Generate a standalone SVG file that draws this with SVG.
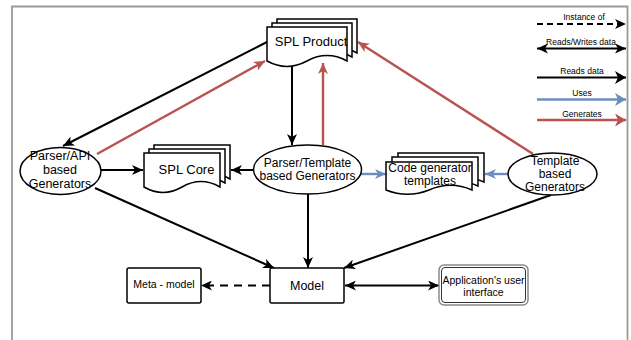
<svg xmlns="http://www.w3.org/2000/svg" width="631" height="340" viewBox="0 0 631 340">
  <style>
    .shape { fill: #ffffff; stroke: #000000; stroke-width: 1.5; }
    .lbl { font-family: "Liberation Sans", Arial, Helvetica, sans-serif; fill: #000000; text-anchor: middle; }
    .edge { fill: none; stroke-width: 2; }
    .blk { stroke: #000000; }
    .red { stroke: #b85450; stroke-width: 2.4; }
    .blu { stroke: #6c8ebf; stroke-width: 2.4; }
    .dash { stroke-dasharray: 8 6; }
  </style>
  <defs>
    <marker id="ahBlack" markerUnits="userSpaceOnUse" markerWidth="12" markerHeight="10" refX="11" refY="5" orient="auto-start-reverse" viewBox="0 0 12 10">
      <path d="M0,0 L11,5 L0,10 L3,5 Z" fill="#000000"/>
    </marker>
    <marker id="ahRed" markerUnits="userSpaceOnUse" markerWidth="12" markerHeight="10" refX="11" refY="5" orient="auto" viewBox="0 0 12 10">
      <path d="M0,0 L11,5 L0,10 L3,5 Z" fill="#b85450"/>
    </marker>
    <marker id="ahBlue" markerUnits="userSpaceOnUse" markerWidth="12" markerHeight="10" refX="11" refY="5" orient="auto" viewBox="0 0 12 10">
      <path d="M0,0 L11,5 L0,10 L3,5 Z" fill="#6c8ebf"/>
    </marker>
    <!-- larger heads used in the key -->
    <marker id="keyBlack" markerUnits="userSpaceOnUse" markerWidth="12" markerHeight="13" refX="11" refY="6.5" orient="auto" viewBox="0 0 12 13">
      <path d="M0,0 L11,6.5 L0,13 L3,6.5 Z" fill="#000000"/>
    </marker>
    <marker id="keyRed" markerUnits="userSpaceOnUse" markerWidth="12" markerHeight="13" refX="11" refY="6.5" orient="auto" viewBox="0 0 12 13">
      <path d="M0,0 L11,6.5 L0,13 L3,6.5 Z" fill="#b85450"/>
    </marker>
    <marker id="keyBlue" markerUnits="userSpaceOnUse" markerWidth="12" markerHeight="13" refX="11" refY="6.5" orient="auto" viewBox="0 0 12 13">
      <path d="M0,0 L11,6.5 L0,13 L3,6.5 Z" fill="#6c8ebf"/>
    </marker>
  </defs>

  <rect width="631" height="340" fill="#ffffff"/>
  <!-- outer frame -->
  <path d="M12,340 V6.5 H627.5 V340" fill="none" stroke="#9a9a9a" stroke-width="1.8"/>

  <!-- connectors -->
  <g id="connectors">
    <path class="edge blk" d="M267,42 L63,146" marker-end="url(#ahBlack)"/>
    <path class="edge red" d="M97,154 L265,61" marker-end="url(#ahRed)"/>
    <path class="edge blk" d="M292,66 V145" marker-end="url(#ahBlack)"/>
    <path class="edge red" d="M323,145 V63" marker-end="url(#ahRed)"/>
    <path class="edge red" d="M533,154 L358,42" marker-end="url(#ahRed)"/>
    <path class="edge blk" d="M101,170 H143" marker-end="url(#ahBlack)"/>
    <path class="edge blk" d="M253,170 H231" marker-end="url(#ahBlack)"/>
    <path class="edge blu" d="M359,174 H386" marker-end="url(#ahBlue)"/>
    <path class="edge blu" d="M508,174 H485" marker-end="url(#ahBlue)"/>
    <path class="edge blk" d="M95,188 L274,268" marker-end="url(#ahBlack)"/>
    <path class="edge blk" d="M308,194 V268" marker-end="url(#ahBlack)"/>
    <path class="edge blk" d="M551,195 L344,268" marker-end="url(#ahBlack)"/>
    <path class="edge blk dash" d="M270,285.5 H201" marker-end="url(#ahBlack)"/>
    <path class="edge blk" d="M345,285.5 H439" marker-start="url(#ahBlack)" marker-end="url(#ahBlack)"/>
  </g>

  <!-- SPL Product (stacked documents) -->
  <g id="spl-product">
    <path class="shape" d="M277,19 H357 V53 Q337,42.2 317,53 Q297,63.8 277,53 Z"/>
    <path class="shape" d="M272,23 H352 V57 Q332,46.2 312,57 Q292,67.8 272,57 Z"/>
    <path class="shape" d="M267,27 H347 V61 Q327,50.2 307,61 Q287,71.8 267,61 Z"/>
    <text class="lbl" x="311" y="46" font-size="13">SPL Product</text>
  </g>

  <!-- SPL Core (stacked documents) -->
  <g id="spl-core">
    <path class="shape" d="M154,145 H230 V179 Q211,168.2 192,179 Q173,189.8 154,179 Z"/>
    <path class="shape" d="M149,149 H225 V183 Q206,172.2 187,183 Q168,193.8 149,183 Z"/>
    <path class="shape" d="M144,153 H220 V187 Q201,176.2 182,187 Q163,197.8 144,187 Z"/>
    <text class="lbl" x="186.5" y="173.5" font-size="13">SPL Core</text>
  </g>

  <!-- Code generator templates (stacked documents) -->
  <g id="code-templates">
    <path class="shape" d="M398,153 H484 V182 Q462.5,172.7 441,182 Q419.5,190.5 398,182 Z"/>
    <path class="shape" d="M392,157 H478 V186 Q456.5,176.7 435,186 Q413.5,194.5 392,186 Z"/>
    <path class="shape" d="M386,162 H472 V190 Q450.5,180.7 429,190 Q407.5,198.5 386,190 Z"/>
    <text class="lbl" x="430" y="171.5" font-size="12">Code generator</text>
    <text class="lbl" x="430" y="185" font-size="12">templates</text>
  </g>

  <!-- Parser/API based Generators -->
  <g id="parser-api">
    <ellipse class="shape" cx="60.5" cy="171" rx="40.5" ry="23.5"/>
    <text class="lbl" x="60" y="159.5" font-size="12.5">Parser/API</text>
    <text class="lbl" x="60" y="173.5" font-size="12.5">based</text>
    <text class="lbl" x="60" y="187.5" font-size="12.5">Generators</text>
  </g>

  <!-- Parser/Template based Generators -->
  <g id="parser-template">
    <ellipse class="shape" cx="307.5" cy="169.5" rx="54" ry="24.5"/>
    <text class="lbl" x="307.5" y="166.8" font-size="12">Parser/Template</text>
    <text class="lbl" x="307.5" y="180" font-size="12">based Generators</text>
  </g>

  <!-- Template based Generators -->
  <g id="template-gen">
    <ellipse class="shape" cx="552.5" cy="174" rx="44.5" ry="21"/>
    <text class="lbl" x="555" y="164.5" font-size="12">Template</text>
    <text class="lbl" x="555" y="177.8" font-size="12">based</text>
    <text class="lbl" x="555" y="191" font-size="12">Generators</text>
  </g>

  <!-- Meta - model -->
  <g id="meta-model">
    <rect class="shape" x="127" y="268" width="74" height="35" rx="2"/>
    <text class="lbl" x="164" y="288.3" font-size="10.5">Meta - model</text>
  </g>

  <!-- Model -->
  <g id="model">
    <rect class="shape" x="270" y="268" width="74" height="35" rx="1.5"/>
    <text class="lbl" x="307" y="289.5" font-size="12.5">Model</text>
  </g>

  <!-- Application's user interface -->
  <g id="app-ui">
    <rect x="439" y="265" width="89" height="40" rx="5" fill="#ffffff" stroke="#8a8a8a" stroke-width="1.5"/>
    <rect x="441.5" y="267.5" width="84" height="35" rx="3.5" fill="none" stroke="#333333" stroke-width="1"/>
    <text class="lbl" x="483.5" y="283.8" font-size="10.5">Application's user</text>
    <text class="lbl" x="483.5" y="295.5" font-size="10.5">interface</text>
  </g>

  <!-- legend -->
  <g id="legend">
    <text class="lbl" x="584" y="20" font-size="8.5">Instance  of</text>
    <path class="edge blk" d="M537,24 H626" stroke-dasharray="6 4" marker-end="url(#ahBlack)"/>
    <text class="lbl" x="581" y="45" font-size="8.5">Reads/Writes data</text>
    <path class="edge blk" d="M537,48.5 H626" marker-start="url(#ahBlack)" marker-end="url(#ahBlack)"/>
    <text class="lbl" x="582" y="74" font-size="8.5">Reads data</text>
    <path class="edge blk" d="M537,77.5 H626" marker-end="url(#keyBlack)"/>
    <text class="lbl" x="582" y="96" font-size="8.5">Uses</text>
    <path class="edge blu" d="M537,99.5 H626" marker-end="url(#keyBlue)"/>
    <text class="lbl" x="582" y="116.5" font-size="8.5">Generates</text>
    <path class="edge red" d="M537,120 H626" marker-end="url(#keyRed)"/>
  </g>
</svg>
